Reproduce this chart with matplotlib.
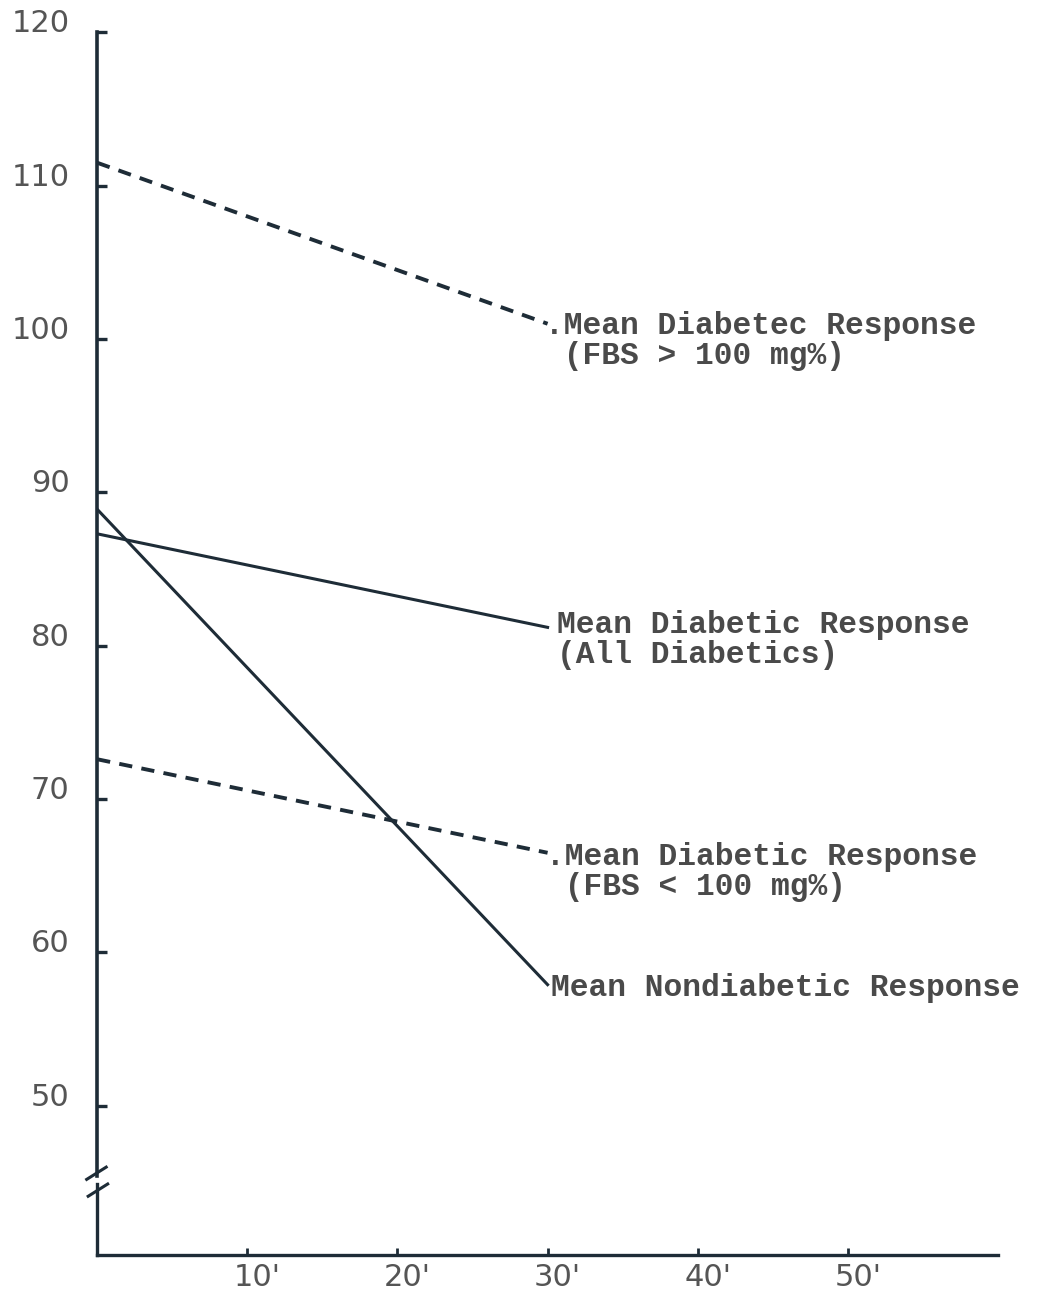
import matplotlib
matplotlib.use("Agg")
import matplotlib.pyplot as plt
import matplotlib.transforms as mtransforms

# time in minutes, response values
minutes = [0, 30]
fbs_high = [111.5, 101.0]
all_diab = [87.3, 81.2]
fbs_low = [72.6, 66.5]
nondiab = [88.9, 57.9]

y_ticks = [50, 60, 70, 80, 90, 100, 110, 120]
x_ticks = [10, 20, 30, 40, 50]
x_labels = ["10'", "20'", "30'", "40'", "50'"]

ink = '#1e2c37'
txt = '#4a4a4a'
mono = 'Liberation Mono'
fs = 22.5

fig = plt.figure(figsize=(10.45, 12.96), dpi=100)
ax = fig.add_axes([0.093, 0.032, 0.862, 0.943])
ax.set_xlim(0, 60)
ax.set_ylim(40.3, 120)

ax.plot(minutes, fbs_high, color=ink, lw=2.8, dashes=(3.4, 2.4))
ax.plot(minutes, all_diab, color=ink, lw=2.2)
ax.plot(minutes, fbs_low, color=ink, lw=2.8, dashes=(3.4, 2.4))
ax.plot(minutes, nondiab, color=ink, lw=2.2)

# labels at line ends
ax.text(29.8, fbs_high[1] + 0.85, ".Mean Diabetec Response\n (FBS > 100 mg%)", family=mono,
        fontsize=fs, fontweight='bold', color=txt, va='top', ha='left',
        linespacing=1.0)
ax.text(30.6, all_diab[1] + 1.1, "Mean Diabetic Response\n(All Diabetics)", family=mono,
        fontsize=fs, fontweight='bold', color=txt, va='top', ha='left',
        linespacing=1.0)
ax.text(29.9, fbs_low[1] + 0.7, ".Mean Diabetic Response\n (FBS < 100 mg%)", family=mono,
        fontsize=fs, fontweight='bold', color=txt, va='top', ha='left',
        linespacing=1.0)
ax.text(30.2, nondiab[1] + 0.75, "Mean Nondiabetic Response", family=mono,
        fontsize=fs, fontweight='bold', color=txt, va='top', ha='left')

# axes with break on y axis
for s in ['top', 'right', 'left']:
    ax.spines[s].set_visible(False)
ax.spines['bottom'].set_color(ink)
ax.spines['bottom'].set_linewidth(2.4)
ax.plot([0, 0], [40.3, 44.9], color=ink, lw=2.4, clip_on=False)
ax.plot([0, 0], [45.4, 120], color=ink, lw=2.6, clip_on=False)
ax.plot([-0.7, 0.6], [45.2, 46.0], color=ink, lw=2.2, clip_on=False)
ax.plot([-0.6, 0.7], [44.1, 44.9], color=ink, lw=2.2, clip_on=False)

ax.set_yticks(y_ticks)
ax.set_yticklabels([str(v) for v in y_ticks])
ax.set_xticks(x_ticks)
ax.set_xticklabels(x_labels)
ax.tick_params(axis='y', direction='in', length=7, width=2.4, color=ink,
               labelsize=22, labelcolor='#555555', pad=20)
ax.tick_params(axis='x', direction='in', length=5, width=2, color=ink,
               labelsize=22, labelcolor='#555555', pad=6)
for lab in ax.get_yticklabels():
    lab.set_va('baseline')
shift = mtransforms.ScaledTranslation(10 / 100, 0, fig.dpi_scale_trans)
for lab in ax.get_xticklabels():
    lab.set_transform(lab.get_transform() + shift)

fig.savefig('out.png', dpi=100)
